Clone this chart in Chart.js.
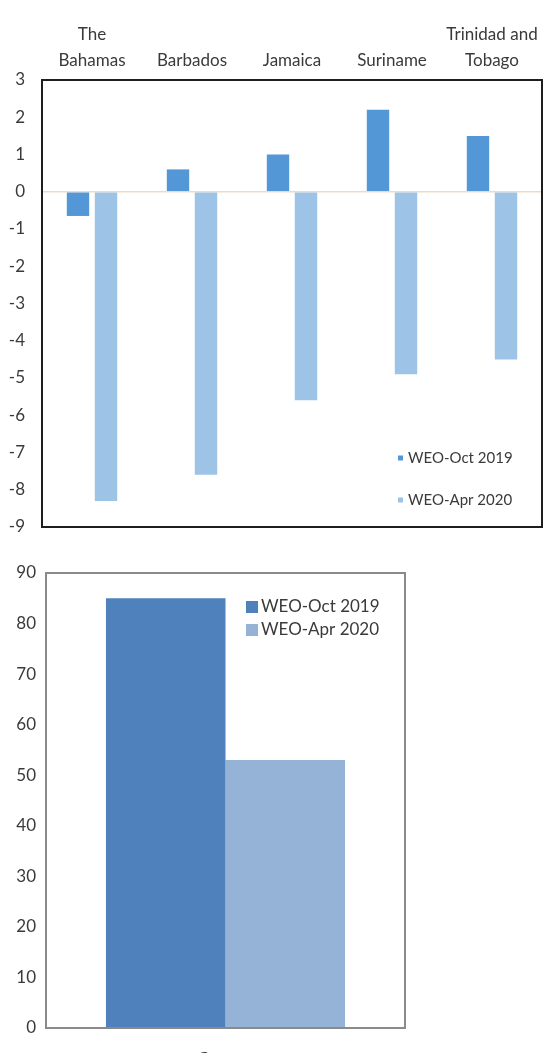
<!DOCTYPE html>
<html>
<head>
<meta charset="utf-8">
<script src="https://cdn.jsdelivr.net/npm/chart.js@4.4.1/dist/chart.umd.min.js"></script>
<style>
    html, body { margin: 0; padding: 0; background: #fff; overflow: hidden; }
    #wrap_top { position: absolute; left: 0; top: 0; width: 544px; height: 535px; }
    #wrap_bottom { position: absolute; left: 0; top: 540px; width: 544px; height: 540px; }
</style>
</head>
<body>
<div id="wrap_top"><canvas id="chart_top"></canvas></div>
<div id="wrap_bottom"><canvas id="chart_bottom"></canvas></div>
<script>
// top panel: real GDP growth, percent
const topCountries = [['The', 'Bahamas'], 'Barbados', 'Jamaica', 'Suriname', ['Trinidad and', 'Tobago']];
const topOct2019 = [-0.65, 0.6, 1.0, 2.2, 1.5];
const topApr2020 = [-8.3, -7.6, -5.6, -4.9, -4.5];
const topTicks = [3, 2, 1, 0, -1, -2, -3, -4, -5, -6, -7, -8, -9];

// bottom panel: Guyana
const bottomCountries = ['Guyana'];
const bottomOct2019 = [85];
const bottomApr2020 = [53];
const bottomTicks = [90, 80, 70, 60, 50, 40, 30, 20, 10, 0];

const seriesNames = ['WEO-Oct 2019', 'WEO-Apr 2020'];

Chart.defaults.font.family = 'Lato, "Open Sans", sans-serif';
Chart.defaults.color = '#3a3a3a';
Chart.defaults.animation = false;

// box round the plot area
const framePlugin = {
    id: 'frame',
    afterDatasetsDraw: function(chart, args, opts) {
        const a = chart.chartArea;
        const ctx = chart.ctx;
        ctx.save();
        ctx.strokeStyle = opts.color;
        ctx.lineWidth = opts.width;
        ctx.strokeRect(a.left, a.top, a.right - a.left, a.bottom - a.top);
        ctx.restore();
    }
};

// legend drawn inside the plot, the way the source figure has it
const boxLegendPlugin = {
    id: 'boxLegend',
    afterDraw: function(chart, args, opts) {
        const ctx = chart.ctx;
        ctx.save();
        ctx.font = opts.fontSize + 'px ' + Chart.defaults.font.family;
        ctx.textBaseline = 'middle';
        ctx.textAlign = 'left';
        chart.data.datasets.forEach(function(ds, i) {
            const y = opts.y + i * opts.rowGap;
            ctx.fillStyle = ds.backgroundColor;
            ctx.fillRect(opts.x, y - opts.box / 2, opts.box, opts.box);
            ctx.fillStyle = '#3a3a3a';
            ctx.fillText(ds.label, opts.x + opts.box + opts.gap, y);
        });
        ctx.restore();
    }
};

// pin an axis to a fixed size so the plot box lands where the figure has it
function fixedSize(size, isWidth) {
    return function(scale) {
        if (isWidth) { scale.width = size; } else { scale.height = size; }
        scale.paddingTop = 0;
        scale.paddingBottom = 0;
        scale.paddingLeft = 0;
        scale.paddingRight = 0;
    };
}

var chart_top = document.getElementById('chart_top');
let chartTop = new Chart(chart_top, {
    type: 'bar',
    plugins: [framePlugin, boxLegendPlugin],
    data: {
        labels: topCountries,
        datasets: [
            {
                label: seriesNames[0],
                data: topOct2019,
                backgroundColor: '#5497d6',
                categoryPercentage: 0.56,
                barPercentage: 0.8
            },
            {
                label: seriesNames[1],
                data: topApr2020,
                backgroundColor: '#9dc3e6',
                categoryPercentage: 0.56,
                barPercentage: 0.8
            }
        ]
    },
    options: {
        responsive: true,
        maintainAspectRatio: false,
        layout: { padding: { top: 0, right: 2, bottom: 8, left: 0 } },
        plugins: {
            legend: { display: false },
            tooltip: { enabled: false },
            frame: { color: '#1e1e1e', width: 2 },
            boxLegend: { x: 398, y: 458, box: 5, gap: 5, rowGap: 42, fontSize: 15 }
        },
        scales: {
            x: {
                position: 'top',
                grid: { display: false, drawTicks: false },
                border: { display: false },
                ticks: {
                    maxRotation: 0,
                    autoSkip: false,
                    padding: 6,
                    font: { size: 17, lineHeight: 1.53 }
                },
                afterFit: fixedSize(80, false)
            },
            y: {
                min: -9,
                max: 3,
                border: { display: false },
                grid: {
                    drawTicks: false,
                    lineWidth: 1.5,
                    color: function(context) {
                        return context.tick && context.tick.value === 0 ? 'rgba(236,214,190,0.9)' : 'rgba(0,0,0,0)';
                    }
                },
                afterBuildTicks: function(scale) {
                    scale.ticks = topTicks.map(function(v) { return { value: v }; });
                },
                ticks: {
                    padding: 17,
                    font: { size: 17 },
                    callback: function(value) {
                        return value;
                    }
                },
                afterFit: fixedSize(42, true)
            }
        }
    }
});

var chart_bottom = document.getElementById('chart_bottom');
let chartBottom = new Chart(chart_bottom, {
    type: 'bar',
    plugins: [framePlugin, boxLegendPlugin],
    data: {
        labels: bottomCountries,
        datasets: [
            {
                label: seriesNames[0],
                data: bottomOct2019,
                backgroundColor: '#4f81bd',
                categoryPercentage: 0.666,
                barPercentage: 1
            },
            {
                label: seriesNames[1],
                data: bottomApr2020,
                backgroundColor: '#95b3d7',
                categoryPercentage: 0.666,
                barPercentage: 1
            }
        ]
    },
    options: {
        responsive: true,
        maintainAspectRatio: false,
        layout: { padding: { top: 33, right: 139, bottom: 0, left: 0 } },
        plugins: {
            legend: { display: false },
            tooltip: { enabled: false },
            frame: { color: '#8a8a8a', width: 2 },
            boxLegend: { x: 246, y: 67, box: 12, gap: 3, rowGap: 23, fontSize: 17 }
        },
        scales: {
            x: {
                grid: { display: false, drawTicks: false },
                border: { display: false },
                ticks: { padding: 21, font: { size: 17 } },
                afterFit: fixedSize(52, false)
            },
            y: {
                min: 0,
                max: 90,
                border: { display: false },
                grid: { display: false, drawTicks: false },
                afterBuildTicks: function(scale) {
                    scale.ticks = bottomTicks.map(function(v) { return { value: v }; });
                },
                ticks: { padding: 10, font: { size: 17 } },
                afterFit: fixedSize(46, true)
            }
        }
    }
});
</script>
</body>
</html>
